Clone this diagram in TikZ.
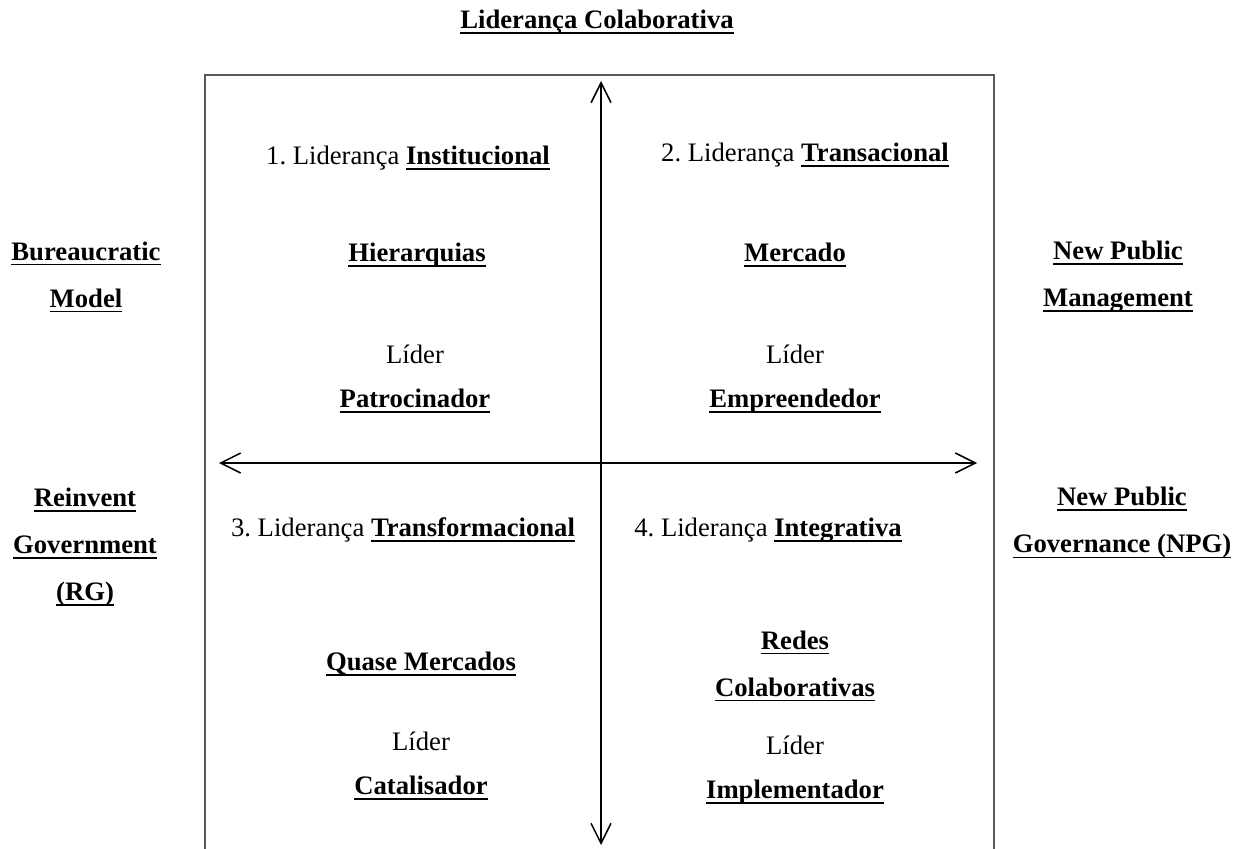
\documentclass[tikz,border=0pt]{standalone}
\usepackage{fontspec}
\setmainfont{Liberation Serif}
\usetikzlibrary{arrows.meta, positioning}
\newcommand{\ubf}[1]{\textbf{\setbox0\hbox{#1}\rlap{\rule[-2.4pt]{\wd0}{0.8pt}}\box0}}
\frenchspacing

\begin{document}
\begin{tikzpicture}[x=0.45pt, y=-0.45pt, node distance={21.2pt},
                    txt/.style = {inner sep=0pt, align=center,
                                  font=\fontsize{12}{21.2}\selectfont},
                    axis/.style = {line width=0.7pt, {Straight Barb[length=9pt, width=9pt]}-{Straight Barb[length=9pt, width=9pt]}}]
    \useasboundingbox (0,0) rectangle (1250,848);
    \draw[gray!70!black, line width=0.5pt] (205,860) -- (205,75) -- (994,75) -- (994,860);

    \coordinate (top) at (601,81);
    \coordinate (bottom) at (601,845);
    \coordinate (left) at (219,463);
    \coordinate (right) at (977,463);
    \draw[axis] (bottom) -- (top);
    \draw[axis] (left) -- (right);

    \node[txt] (title) at (597,22) {\ubf{Liderança Colaborativa}};

    % side labels
    \node[txt] (bm) at (86,277) {\ubf{Bureaucratic}\\\ubf{Model}};
    \node[txt] (npm) at (1118,277) {\ubf{New Public}\\\ubf{Management}};
    \node[txt] (rg) at (85,547) {\ubf{Reinvent}\\\ubf{Government}\\\ubf{(RG)}};
    \node[txt] (npg) at (1122,523) {\ubf{New Public}\\\ubf{Governance (NPG)}};

    % quadrant 1
    \node[txt] (q1) at (408,158) {1. Liderança \ubf{Institucional}};
    \node[txt] (hier) at (417,255) {\ubf{Hierarquias}};
    \node[txt] (lider1) at (415,354) {Líder};
    \node[txt] (patr) [below of=lider1] {\ubf{Patrocinador}};

    % quadrant 2
    \node[txt] (q2) at (805,155) {2. Liderança \ubf{Transacional}};
    \node[txt] (merc) at (795,255) {\ubf{Mercado}};
    \node[txt] (lider2) at (795,354) {Líder};
    \node[txt] (empr) [below of=lider2] {\ubf{Empreendedor}};

    % quadrant 3
    \node[txt] (q3) at (403,530) {3. Liderança \ubf{Transformacional}};
    \node[txt] (quase) at (421,664) {\ubf{Quase Mercados}};
    \node[txt] (lider3) at (421,741) {Líder};
    \node[txt] (cata) [below of=lider3] {\ubf{Catalisador}};

    % quadrant 4
    \node[txt] (q4) at (768,530) {4. Liderança \ubf{Integrativa}};
    \node[txt] (redes) at (795,666) {\ubf{Redes}\\\ubf{Colaborativas}};
    \node[txt] (lider4) at (795,745) {Líder};
    \node[txt] (impl) [below of=lider4] {\ubf{Implementador}};
\end{tikzpicture}
\end{document}
